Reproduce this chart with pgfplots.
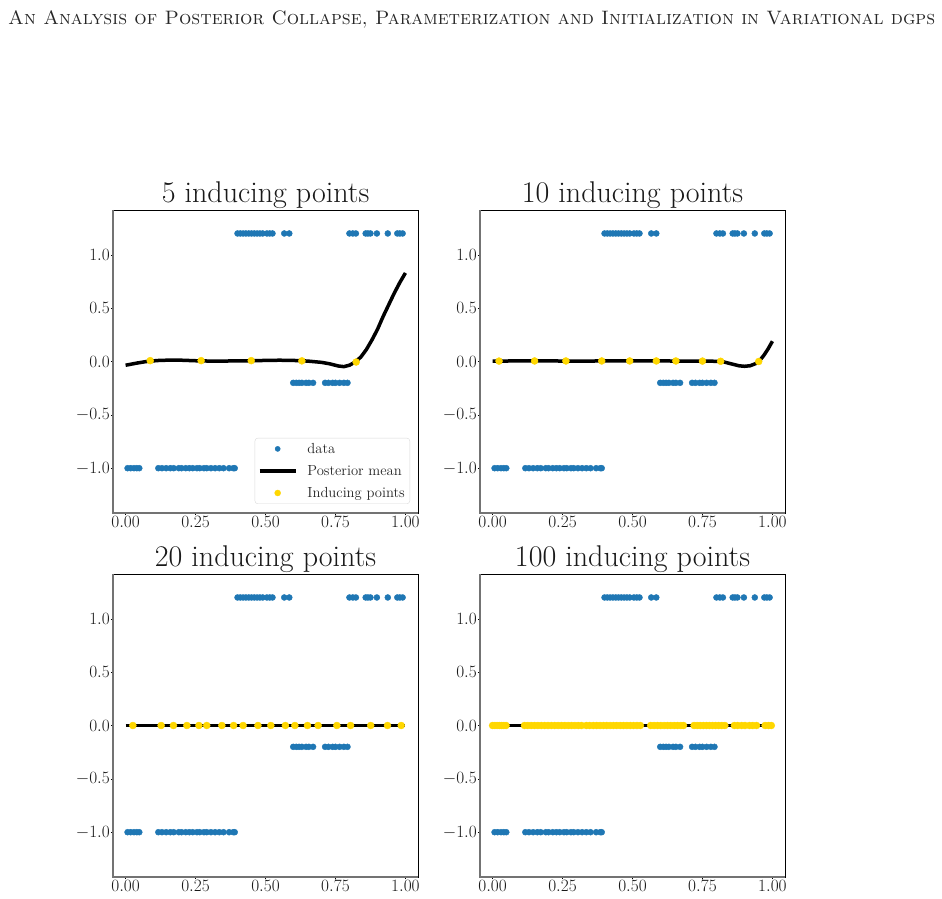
\documentclass[border=0pt]{standalone}
\usepackage{fontspec}
\usepackage{graphicx}
\usepackage{pgfplots}
\pgfplotsset{compat=1.18}
\usepackage{pgfplotstable}
\definecolor{tabblue}{HTML}{1F77B4}
\definecolor{gold}{HTML}{FFD700}

\pgfplotstableread{
x y
0.007 -1
0.018 -1
0.030 -1
0.040 -1
0.049 -1
0.117 -1
0.130 -1
0.145 -1
0.160 -1
0.172 -1
0.190 -1
0.200 -1
0.215 -1
0.228 -1
0.240 -1
0.255 -1
0.265 -1
0.280 -1
0.290 -1
0.305 -1
0.320 -1
0.335 -1
0.350 -1
0.370 -1
0.385 -1
0.390 -1
0.400 1.2
0.410 1.2
0.420 1.2
0.430 1.2
0.440 1.2
0.450 1.2
0.460 1.2
0.470 1.2
0.480 1.2
0.490 1.2
0.505 1.2
0.515 1.2
0.525 1.2
0.567 1.2
0.585 1.2
0.599 -0.2
0.610 -0.2
0.620 -0.2
0.630 -0.2
0.645 -0.2
0.655 -0.2
0.670 -0.2
0.713 -0.2
0.725 -0.2
0.740 -0.2
0.750 -0.2
0.765 -0.2
0.780 -0.2
0.793 -0.2
0.800 1.2
0.812 1.2
0.823 1.2
0.858 1.2
0.866 1.2
0.875 1.2
0.898 1.2
0.937 1.2
0.971 1.2
0.980 1.2
0.990 1.2
}\datatab

\pgfplotstableread{
x y
0.00 -0.035
0.04 -0.015
0.08 0.002
0.12 0.010
0.16 0.013
0.20 0.012
0.25 0.007
0.30 0.004
0.35 0.004
0.40 0.006
0.45 0.007
0.50 0.010
0.55 0.012
0.60 0.010
0.65 0.004
0.70 -0.008
0.73 -0.022
0.76 -0.042
0.78 -0.048
0.80 -0.035
0.82 -0.005
0.84 0.040
0.86 0.110
0.88 0.200
0.90 0.300
0.92 0.420
0.94 0.530
0.96 0.640
0.98 0.740
1.00 0.830
}\meanA

\pgfplotstableread{
x y
0.00 0.003
0.10 0.006
0.20 0.005
0.30 0.004
0.40 0.005
0.50 0.005
0.60 0.005
0.70 0.004
0.78 0.003
0.82 0.000
0.85 -0.020
0.88 -0.040
0.90 -0.045
0.92 -0.040
0.94 -0.020
0.955 0.010
0.97 0.060
0.985 0.120
1.00 0.190
}\meanB

\pgfplotstableread{
x y
0.00 0.0
0.25 0.0
0.50 0.0
0.75 0.0
1.00 0.0
}\meanC

\pgfplotstableread{
x y
0.088 0.008
0.270 0.008
0.449 0.008
0.630 0.006
0.824 -0.005
}\indA

\pgfplotstableread{
x y
0.023 0.004
0.150 0.005
0.262 0.005
0.390 0.005
0.490 0.005
0.585 0.005
0.655 0.005
0.750 0.004
0.815 0.002
0.951 0.000
}\indB

\pgfplotstableread{
x y
0.026 0
0.127 0
0.171 0
0.219 0
0.262 0
0.290 0
0.344 0
0.386 0
0.420 0
0.473 0
0.519 0
0.571 0
0.605 0
0.650 0
0.688 0
0.755 0
0.804 0
0.876 0
0.936 0
0.985 0
}\indC

\pgfplotstableread{
x y
0.000 0
0.008 0
0.016 0
0.024 0
0.032 0
0.040 0
0.048 0
0.114 0
0.126 0
0.138 0
0.150 0
0.162 0
0.174 0
0.186 0
0.198 0
0.210 0
0.222 0
0.234 0
0.246 0
0.258 0
0.270 0
0.282 0
0.294 0
0.306 0
0.318 0
0.335 0
0.347 0
0.360 0
0.372 0
0.384 0
0.396 0
0.408 0
0.420 0
0.432 0
0.444 0
0.456 0
0.468 0
0.480 0
0.492 0
0.504 0
0.516 0
0.528 0
0.565 0
0.577 0
0.589 0
0.601 0
0.613 0
0.625 0
0.637 0
0.649 0
0.661 0
0.673 0
0.682 0
0.720 0
0.731 0
0.742 0
0.753 0
0.764 0
0.775 0
0.786 0
0.797 0
0.808 0
0.819 0
0.830 0
0.864 0
0.876 0
0.890 0
0.902 0
0.918 0
0.930 0
0.943 0
0.974 0
0.986 0
0.996 0
}\indD

\pgfplotsset{
  panel/.style={
    scale only axis, width=305pt, height=303pt,
    xmin=-0.045, xmax=1.045, ymin=-1.42, ymax=1.42,
    xtick={0,0.25,0.5,0.75,1}, ytick={-1,-0.5,0,0.5,1},
    xticklabel={\pgfmathprintnumber[fixed,fixed zerofill,precision=2]{\tick}},
    yticklabel={\pgfmathprintnumber[fixed,fixed zerofill,precision=1]{\tick}},
    tick pos=left, tick align=outside, major tick length=2pt,
    tick style={black, line width=0.6pt},
    tick label style={font=\fontsize{17.5}{17.5}\selectfont, text=black!90},
    xticklabel style={inner sep=1pt},
    yticklabel style={inner sep=1pt},
    axis line style={black, line width=0.7pt},
    title style={at={(0.5,1)}, anchor=base, yshift=1pt, font=\fontsize{30}{30}\selectfont, text=black!90},
    clip=false,
  },
  dataplot/.style={only marks, mark=*, mark size=3pt, color=tabblue, mark options={draw=tabblue, fill=tabblue},
    legend image code/.code={\path[draw=none,fill=none] (0pt,-3pt) rectangle (36pt,3pt); \draw[##1, mark size=2.6pt] plot coordinates {(18pt,0pt)};}},
  meanplot/.style={black, line width=3.5pt, no marks,
    legend image code/.code={\path[draw=none,fill=none] (0pt,-3pt) rectangle (36pt,3pt); \draw[##1] (0pt,0pt) -- (36pt,0pt);}},
  indplot/.style={only marks, mark=*, mark size=3.5pt, color=gold, mark options={draw=gold, fill=gold},
    legend image code/.code={\path[draw=none,fill=none] (0pt,-3pt) rectangle (36pt,3pt); \draw[##1, mark size=3pt] plot coordinates {(18pt,0pt)};}},
}

\newcommand{\spines}{\draw[black!55, line width=1.5pt] (rel axis cs:0,1) -- (rel axis cs:0,0) -- (rel axis cs:1,0);}

\begin{document}
\begin{tikzpicture}
\useasboundingbox (0pt,0pt) rectangle (942pt,898pt);
\node[anchor=base west, inner sep=0pt, text=black!85] at (8pt,873pt) {\resizebox{927pt}{!}{\textsc{An Analysis of Posterior Collapse, Parameterization and Initialization in Variational dgps}}};

% top left
\begin{axis}[panel, at={(113pt,385pt)}, anchor=south west, title={5 inducing points},
  legend style={at={(1,0)}, anchor=south east, xshift=-8pt, yshift=9pt,
    draw=black!15, rounded corners=3pt, fill=white,
    font=\fontsize{14.6}{17}\selectfont, text=black!85, inner xsep=3pt, inner ysep=3pt,
    row sep=6.5pt,
    cells={anchor=west}, /tikz/every odd column/.append style={column sep=8pt}}]
\addplot[dataplot] table {\datatab};
\addlegendentry{data}
\addplot[meanplot] table {\meanA};
\addlegendentry{Posterior mean}
\addplot[indplot] table {\indA};
\addlegendentry{Inducing points}
\spines
\end{axis}

% top right
\begin{axis}[panel, at={(480pt,385pt)}, anchor=south west, title={10 inducing points}]
\addplot[dataplot] table {\datatab};
\addplot[meanplot] table {\meanB};
\addplot[indplot] table {\indB};
\spines
\end{axis}

% bottom left
\begin{axis}[panel, at={(113pt,21pt)}, anchor=south west, title={20 inducing points}]
\addplot[dataplot] table {\datatab};
\addplot[meanplot] table {\meanC};
\addplot[indplot] table {\indC};
\spines
\end{axis}

% bottom right
\begin{axis}[panel, at={(480pt,21pt)}, anchor=south west, title={100 inducing points}]
\addplot[dataplot] table {\datatab};
\addplot[meanplot] table {\meanC};
\addplot[indplot] table {\indD};
\spines
\end{axis}
\end{tikzpicture}
\end{document}
